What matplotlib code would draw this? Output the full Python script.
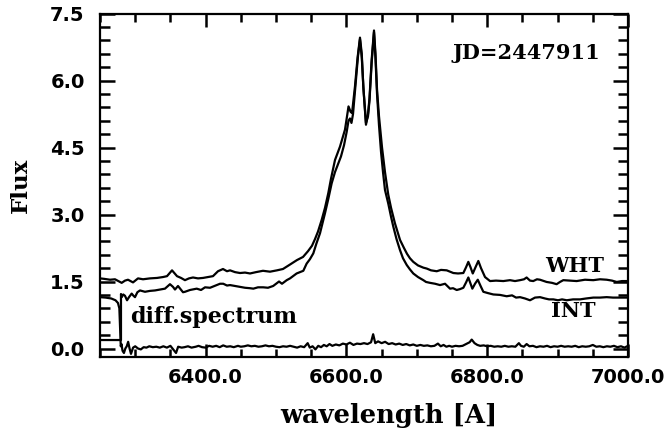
import matplotlib
matplotlib.use("Agg")
import matplotlib.pyplot as plt
from matplotlib.ticker import MultipleLocator, FixedLocator, FormatStrFormatter

# ---------------- data ----------------
wht_wave = [6250.0, 6255.7, 6264.2, 6271.3, 6280.8, 6285.5, 6289.8, 6296.9, 6304.0, 6311.1,
            6321.0, 6331.0, 6339.5, 6345.2, 6352.3, 6359.4, 6365.1, 6370.7, 6376.4, 6382.1,
            6389.2, 6396.3, 6403.4, 6410.5, 6417.6, 6424.7, 6430.4, 6434.7, 6441.8, 6448.9,
            6456.0, 6463.1, 6471.6, 6481.5, 6491.5, 6501.4, 6509.9, 6519.9, 6529.8, 6538.4,
            6545.5, 6551.1, 6555.4, 6559.7, 6564.9, 6569.6, 6574.3, 6578.1, 6583.8, 6590.9,
            6598.0, 6600.9, 6603.0, 6605.9, 6608.0, 6612.2, 6615.8, 6619.3, 6621.8, 6624.0,
            6627.8, 6630.7, 6632.8, 6635.9, 6639.2, 6641.3, 6643.5, 6646.3, 6650.6, 6654.8,
            6659.4, 6663.4, 6669.0, 6676.2, 6681.8, 6686.1, 6690.3, 6695.0, 6701.7, 6709.3,
            6714.1, 6720.2, 6728.3, 6734.4, 6742.5, 6747.2, 6751.9, 6758.6, 6766.1, 6770.0,
            6773.2, 6776.3, 6779.5, 6783.4, 6787.4, 6791.2, 6796.9, 6804.0, 6812.5, 6822.9,
            6832.4, 6839.5, 6846.6, 6852.3, 6856.0, 6860.8, 6865.4, 6870.7, 6875.0, 6884.4,
            6892.0, 6898.6, 6903.4, 6908.1, 6917.6, 6927.1, 6938.9, 6950.7, 6960.2, 6969.7,
            6977.3, 6984.0, 6991.5, 7000.0]
wht_flux = [1.57, 1.56, 1.54, 1.55, 1.47, 1.52, 1.54, 1.48, 1.57, 1.55,
            1.57, 1.58, 1.60, 1.62, 1.75, 1.62, 1.58, 1.53, 1.57, 1.59,
            1.57, 1.58, 1.60, 1.62, 1.73, 1.78, 1.73, 1.75, 1.71, 1.69,
            1.70, 1.68, 1.71, 1.74, 1.72, 1.75, 1.78, 1.88, 1.98, 2.05,
            2.18, 2.30, 2.45, 2.62, 2.88, 3.15, 3.48, 3.80, 4.22, 4.52,
            4.90, 5.20, 5.42, 5.30, 5.27, 5.87, 6.50, 6.96, 6.60, 5.87,
            5.01, 5.25, 5.60, 6.47, 7.12, 6.60, 5.80, 5.20, 4.50, 3.95,
            3.45, 3.15, 2.80, 2.43, 2.25, 2.12, 2.02, 1.94, 1.86, 1.81,
            1.79, 1.75, 1.73, 1.76, 1.75, 1.72, 1.69, 1.68, 1.69, 1.82,
            1.94, 1.82, 1.68, 1.82, 1.96, 1.80, 1.60, 1.51, 1.52, 1.51,
            1.53, 1.51, 1.53, 1.55, 1.59, 1.52, 1.51, 1.55, 1.54, 1.49,
            1.47, 1.44, 1.49, 1.53, 1.52, 1.51, 1.54, 1.53, 1.55, 1.54,
            1.52, 1.49, 1.51, 1.51]

int_wave = [6250.0, 6279.8, 6279.8, 6280.8, 6283.0, 6285.5, 6288.4, 6291.2, 6295.0, 6297.6,
            6299.7, 6303.1, 6306.8, 6313.9, 6321.0, 6328.1, 6335.2, 6342.3, 6349.4, 6353.7,
            6356.5, 6360.8, 6367.9, 6370.7, 6377.8, 6387.4, 6393.5, 6399.2, 6406.3, 6415.8,
            6420.5, 6425.1, 6430.4, 6434.7, 6441.8, 6448.9, 6456.0, 6463.1, 6467.8, 6474.4,
            6481.8, 6488.6, 6496.0, 6504.3, 6508.5, 6515.2, 6519.9, 6529.3, 6538.8, 6543.5,
            6548.2, 6553.0, 6557.4, 6562.5, 6566.0, 6569.6, 6574.3, 6579.1, 6583.8, 6588.0,
            6592.3, 6596.6, 6600.4, 6603.0, 6605.1, 6607.2, 6609.4, 6612.9, 6616.5, 6619.3,
            6621.9, 6624.3, 6627.8, 6630.7, 6632.8, 6635.9, 6639.2, 6641.3, 6643.5, 6646.3,
            6649.2, 6652.0, 6654.8, 6659.4, 6663.4, 6666.6, 6671.2, 6676.2, 6680.4, 6685.7,
            6690.3, 6695.0, 6701.7, 6709.3, 6713.1, 6718.8, 6725.9, 6733.0, 6740.1, 6747.2,
            6751.5, 6756.7, 6761.4, 6766.1, 6770.0, 6773.2, 6776.1, 6778.9, 6782.7, 6786.6,
            6790.6, 6794.5, 6801.2, 6808.7, 6818.2, 6827.7, 6835.3, 6841.0, 6846.6, 6853.7,
            6860.8, 6867.9, 6875.0, 6882.1, 6887.8, 6893.9, 6900.6, 6906.3, 6913.0, 6921.9,
            6931.8, 6940.4, 6950.7, 6960.2, 6969.7, 6978.7, 6988.6, 7000.0]
int_flux = [0.19, 0.19, 1.22, 1.15, 1.21, 1.18, 1.08, 1.15, 1.23, 1.18,
            1.15, 1.26, 1.30, 1.27, 1.29, 1.30, 1.32, 1.34, 1.44, 1.38,
            1.32, 1.40, 1.26, 1.27, 1.31, 1.34, 1.31, 1.37, 1.36, 1.42,
            1.45, 1.45, 1.41, 1.42, 1.40, 1.38, 1.36, 1.35, 1.34, 1.37,
            1.37, 1.36, 1.40, 1.50, 1.45, 1.53, 1.57, 1.68, 1.74, 1.90,
            2.00, 2.13, 2.35, 2.58, 2.80, 3.03, 3.35, 3.70, 3.95, 4.12,
            4.30, 4.55, 4.85, 5.10, 5.15, 5.05, 5.25, 5.90, 6.55, 6.92,
            6.50, 5.80, 5.05, 5.20, 5.55, 6.40, 7.08, 6.50, 5.70, 5.00,
            4.40, 3.95, 3.55, 3.25, 2.95, 2.73, 2.45, 2.20, 2.02, 1.87,
            1.77, 1.68, 1.60, 1.53, 1.49, 1.47, 1.45, 1.42, 1.45, 1.34,
            1.35, 1.31, 1.33, 1.36, 1.48, 1.59, 1.46, 1.34, 1.45, 1.54,
            1.40, 1.27, 1.24, 1.21, 1.20, 1.17, 1.19, 1.14, 1.15, 1.12,
            1.08, 1.14, 1.15, 1.12, 1.10, 1.10, 1.08, 1.10, 1.08, 1.10,
            1.10, 1.12, 1.14, 1.14, 1.15, 1.14, 1.14, 1.14]

diff_wave = [6250.0, 6258.0, 6266.0, 6272.0, 6275.5, 6277.5, 6278.5, 6279.5, 6280.5, 6282.0,
             6284.0, 6286.0, 6288.0, 6290.0, 6292.0, 6294.0, 6297.0, 6300.0, 6304.0, 6308.0,
             6312.0, 6316.0, 6320.0, 6325.0, 6330.0, 6335.0, 6340.0, 6345.0, 6350.0, 6355.0,
             6358.0, 6361.0, 6366.0, 6370.0, 6375.0, 6380.0, 6386.0, 6390.0, 6395.0, 6400.0,
             6405.0, 6410.0, 6415.0, 6420.0, 6425.0, 6430.0, 6435.0, 6440.0, 6446.0, 6450.0,
             6455.0, 6460.0, 6465.0, 6470.0, 6475.0, 6480.0, 6485.0, 6490.0, 6495.0, 6500.0,
             6505.0, 6510.0, 6515.0, 6520.0, 6525.0, 6530.0, 6535.0, 6540.0, 6545.0, 6548.0,
             6552.0, 6556.0, 6560.0, 6564.0, 6568.0, 6572.0, 6576.0, 6580.0, 6585.0, 6590.0,
             6595.0, 6600.0, 6605.0, 6610.0, 6615.0, 6620.0, 6625.0, 6630.0, 6635.0, 6638.0,
             6641.0, 6645.0, 6650.0, 6655.0, 6660.0, 6665.0, 6670.0, 6675.0, 6680.0, 6685.0,
             6690.0, 6695.0, 6700.0, 6705.0, 6710.0, 6715.0, 6720.0, 6725.0, 6730.0, 6734.0,
             6738.0, 6742.0, 6746.0, 6750.0, 6755.0, 6760.0, 6765.0, 6770.0, 6775.0, 6778.0,
             6782.0, 6786.0, 6790.0, 6795.0, 6800.0, 6805.0, 6810.0, 6815.0, 6820.0, 6825.0,
             6830.0, 6835.0, 6840.0, 6845.0, 6848.0, 6852.0, 6856.0, 6860.0, 6865.0, 6870.0,
             6875.0, 6880.0, 6885.0, 6890.0, 6895.0, 6900.0, 6905.0, 6910.0, 6915.0, 6920.0,
             6925.0, 6930.0, 6935.0, 6940.0, 6945.0, 6950.0, 6955.0, 6960.0, 6965.0, 6970.0,
             6975.0, 6980.0, 6985.0, 6990.0, 6995.0, 7000.0]
diff_flux = [1.15, 1.14, 1.12, 1.08, 1.02, 0.90, 0.50, 0.05, 0.10, -0.05,
             -0.10, 0.00, 0.05, 0.15, 0.00, -0.12, 0.02, 0.05, 0.00, -0.02,
             0.03, 0.02, 0.05, 0.03, 0.04, 0.02, 0.05, 0.02, 0.06, -0.04,
             -0.10, 0.04, 0.02, 0.03, 0.05, 0.02, 0.04, 0.06, 0.03, 0.02,
             0.06, 0.04, 0.06, 0.03, 0.07, 0.04, 0.05, 0.03, 0.06, 0.04,
             0.05, 0.07, 0.05, 0.06, 0.04, 0.05, 0.07, 0.05, 0.06, 0.04,
             0.03, 0.05, 0.04, 0.06, 0.04, 0.02, 0.05, 0.03, 0.12, 0.02,
             0.05, -0.02, 0.06, 0.03, 0.08, 0.05, 0.10, 0.06, 0.09, 0.07,
             0.11, 0.09, 0.13, 0.08, 0.11, 0.10, 0.12, 0.10, 0.14, 0.32,
             0.12, 0.16, 0.12, 0.15, 0.10, 0.12, 0.09, 0.11, 0.08, 0.10,
             0.07, 0.09, 0.06, 0.08, 0.06, 0.07, 0.05, 0.06, 0.11, 0.05,
             0.08, 0.04, 0.06, 0.04, 0.06, 0.05, 0.06, 0.10, 0.14, 0.20,
             0.12, 0.08, 0.06, 0.07, 0.05, 0.06, 0.04, 0.05, 0.04, 0.06,
             0.04, 0.05, 0.04, 0.12, 0.06, 0.04, 0.10, 0.05, 0.06, 0.03,
             0.05, 0.04, 0.06, 0.03, 0.05, 0.04, 0.06, 0.04, 0.05, 0.04,
             0.06, 0.03, 0.05, 0.04, 0.05, 0.08, 0.04, 0.05, 0.03, 0.05,
             0.04, 0.06, 0.03, 0.05, 0.02, 0.06]

x_major = [6400.0, 6600.0, 6800.0, 7000.0]
y_major = [0.0, 1.5, 3.0, 4.5, 6.0, 7.5]

# ---------------- figure ----------------
W, H = 668, 429
fig = plt.figure(figsize=(W / 100, H / 100), dpi=100)
fig.patch.set_facecolor("white")
ax = fig.add_axes([100 / W, 1 - 357 / H, 528 / W, (357 - 13.5) / H])

lw = 1.6
ax.plot(wht_wave, wht_flux, color="black", lw=lw, solid_joinstyle="round")
ax.plot(int_wave, int_flux, color="black", lw=lw, solid_joinstyle="round")
ax.plot(diff_wave, diff_flux, color="black", lw=lw, solid_joinstyle="round")

ax.set_xlim(6250, 7000)
ax.set_ylim(-0.19, 7.5)

ax.xaxis.set_major_locator(FixedLocator(x_major))
ax.xaxis.set_minor_locator(MultipleLocator(50))
ax.yaxis.set_major_locator(FixedLocator(y_major))
ax.yaxis.set_minor_locator(MultipleLocator(0.3))
ax.xaxis.set_major_formatter(FormatStrFormatter("%.1f"))
ax.yaxis.set_major_formatter(FormatStrFormatter("%.1f"))

for s in ax.spines.values():
    s.set_linewidth(1.6)

ax.tick_params(axis="x", which="major", direction="in", top=True, length=9.5, width=1.8, pad=8)
ax.tick_params(axis="x", which="minor", direction="in", top=True, length=5.5, width=1.8)
ax.tick_params(axis="y", which="major", direction="in", right=True, length=11, width=1.8, pad=11)
ax.tick_params(axis="y", which="minor", direction="in", right=True, length=7, width=1.8)

for lab in ax.get_xticklabels() + ax.get_yticklabels():
    lab.set_fontfamily("DejaVu Sans")
    lab.set_fontweight("bold")
    lab.set_fontsize(14)

serif = ["DejaVu Serif"]
fig.text(21 / W, 1 - 185 / H, "Flux", rotation=90, ha="center", va="center",
         family=serif, weight="bold", fontsize=16.5)
fig.text(389 / W, 1 - 416 / H, "wavelength [A]", ha="center", va="center",
         family=serif, weight="bold", fontsize=18.5)

ax.text(6855, 6.61, "JD=2447911", ha="center", va="center",
        family=serif, weight="bold", fontsize=15)
ax.text(6924, 1.84, "WHT", ha="center", va="center",
        family=serif, weight="bold", fontsize=15)
ax.text(6922, 0.83, "INT", ha="center", va="center",
        family=serif, weight="bold", fontsize=15)
ax.text(6292.5, 0.58, "diff.spectrum", ha="left", va="baseline",
        family=serif, weight="bold", fontsize=16)

fig.savefig("out.png", dpi=100, facecolor="white")
